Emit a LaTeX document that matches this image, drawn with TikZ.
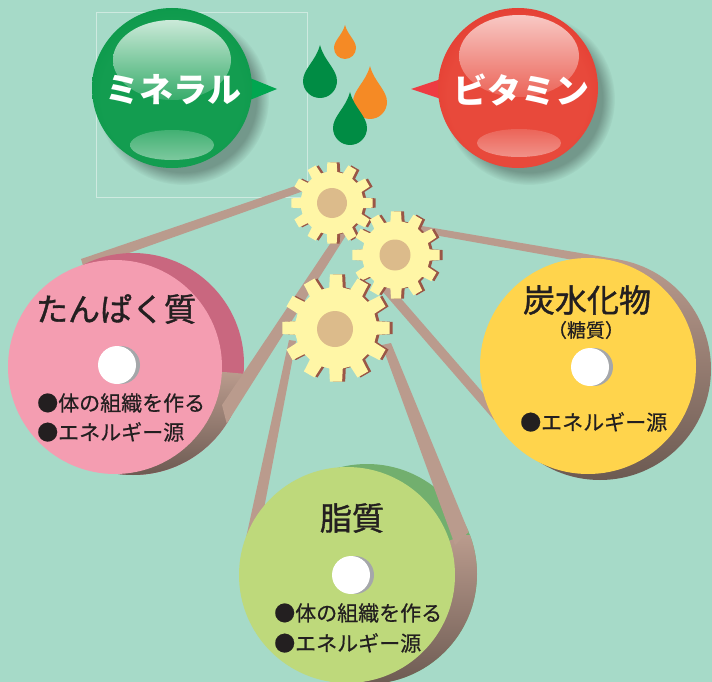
\documentclass[tikz,border=0pt]{standalone}
\usepackage{fontspec}
\newfontfamily\jp{Noto Sans CJK JP}
\newfontfamily\jpheavy{Noto Sans CJK JP}[FakeBold=1.2]
\newfontfamily\jpmid{Noto Sans CJK JP}[FakeBold=0.5]
\usetikzlibrary{fadings}

\definecolor{bg}{HTML}{A6DAC8}
\definecolor{ink}{HTML}{231F20}
\definecolor{beltc}{HTML}{BA9B8D}
\definecolor{beltdark}{HTML}{6C5A52}
\definecolor{gearfill}{HTML}{FFF6A6}
\definecolor{gearshadow}{HTML}{9A5646}
\definecolor{gearhub}{HTML}{DCBB8B}
\definecolor{pinkface}{HTML}{F49DB1}
\definecolor{pinkrim}{HTML}{C9677F}
\definecolor{yellowface}{HTML}{FFD44C}
\definecolor{greenface}{HTML}{BED97B}
\definecolor{greenrim}{HTML}{72AF6E}
\definecolor{holeshade}{HTML}{A5A7AA}
\definecolor{dropgr}{HTML}{008C44}
\definecolor{dropor}{HTML}{F58A25}
\definecolor{gA}{HTML}{139D50}
\definecolor{gB}{HTML}{009242}
\definecolor{gC}{HTML}{007434}
\definecolor{rA}{HTML}{E8493B}
\definecolor{rB}{HTML}{DD2B24}
\definecolor{rC}{HTML}{C41D1E}
\definecolor{ptrgreen}{HTML}{00A650}
\definecolor{ptrred}{HTML}{EE3B42}

\pgfdeclareradialshading{orbgreen}{\pgfpoint{0bp}{-4bp}}{color(0bp)=(gA); color(22bp)=(gA); color(40bp)=(gB); color(50bp)=(gC)}
\pgfdeclareradialshading{orbred}{\pgfpoint{0bp}{-4bp}}{color(0bp)=(rA); color(22bp)=(rA); color(40bp)=(rB); color(50bp)=(rC)}

% cog wheel: centre x, centre y, root radius, tip radius, fill colour
\newcommand{\cog}[5]{%
  \fill[#5] ([shift={(#1,#2)}]-6.5:#4)
    \foreach \k in {0,30,...,330}{
      -- ([shift={(#1,#2)}]\k-6.5:#4) -- ([shift={(#1,#2)}]\k+6.5:#4)
      -- ([shift={(#1,#2)}]\k+9.5:#3) -- ([shift={(#1,#2)}]\k+20.5:#3)
    } -- cycle;}

% water drop: x, tip y, radius, bottom y, colour
\newcommand{\drop}[5]{%
  \pgfmathsetmacro\dropcy{#4-#3}%
  \pgfmathsetmacro\dropmid{#2+0.45*(\dropcy-#2)}%
  \fill[#5] (#1,#2)
    .. controls ({#1+0.25*#3},\dropmid) and ({#1+#3},{\dropcy-0.7*#3}) .. ({#1+#3},\dropcy)
    .. controls ({#1+#3},{\dropcy+0.552*#3}) and ({#1+0.552*#3},#4) .. (#1,#4)
    .. controls ({#1-0.552*#3},#4) and ({#1-#3},{\dropcy+0.552*#3}) .. ({#1-#3},\dropcy)
    .. controls ({#1-#3},{\dropcy-0.7*#3}) and ({#1-0.25*#3},\dropmid) .. cycle;}

\begin{document}
\begin{tikzpicture}[x=1pt,y=-1pt,
  title/.style={font=\jpheavy\fontsize{32}{32}\selectfont, text=ink, inner sep=0},
  subtitle/.style={font=\jpmid\fontsize{19}{19}\selectfont, text=ink, inner sep=0},
  bullet/.style={font=\jpmid\fontsize{21}{21}\selectfont, text=ink, inner sep=0, anchor=west},
  orbtext/.style={font=\jp\bfseries\fontsize{34}{34}\selectfont, text=white, inner sep=0},
  orbshadow/.style={fill=black, opacity=.3, path fading=circle with fuzzy edge 15 percent},
  hole/.style={fill=white},
]
\useasboundingbox (0,0) rectangle (712,682);
\fill[bg] (0,0) rectangle (712,682);

% faint frame around the mineral sphere
\draw[white, opacity=.45, line width=.7pt] (96,12) rectangle (307,197);

% ---------- mineral sphere ----------
\fill[orbshadow] (183,99) circle (86);
\fill[ptrgreen] (240,74) -- (277,89) -- (240,104) -- cycle;
\shade[shading=orbgreen] (172,88) circle (80);
\shade[top color=white!78!gA, bottom color=gA!85!white] (172,60) ellipse [x radius=59, y radius=40];
\shade[top color=gA!80!white, bottom color=gA!55!white] (172,145) ellipse [x radius=42, y radius=15];
\node[orbtext] (mineral) at (173,90) {ミネラル};

% ---------- vitamin sphere ----------
\fill[orbshadow] (529,99) circle (86);
\fill[ptrred] (450,76) -- (411,89) -- (450,102) -- cycle;
\shade[shading=orbred] (518,88) circle (80);
\shade[top color=white!70!rA, bottom color=rA!85!white] (519,56) ellipse [x radius=60, y radius=41];
\shade[top color=rA!85!white, bottom color=rA!60!white] (519,143) ellipse [x radius=42, y radius=14];
\node[orbtext] (vitamin) at (521,90) {ビタミン};

% ---------- drops ----------
\drop{370}{66}{17}{119}{dropor}
\drop{345}{25}{11}{59}{dropor}
\drop{320}{45}{17}{98}{dropgr}
\drop{350}{92}{17}{145}{dropgr}

% ---------- belt runs passing behind the wheels ----------
\fill[beltc] (310,181) -- (312,188) -- (84,269) -- (81,259) -- cycle;      % protein, upper run
\fill[beltc] (410,224) -- (618.7,259.6) -- (640,272) -- (412,231) -- cycle; % carbohydrate, upper run
\fill[beltc] (384,279) -- (497,409) -- (494,420) -- (376,284) -- cycle;    % carbohydrate, lower run
\fill[beltc] (289,340) -- (296,341) -- (258,540) -- (246,538) -- cycle;    % lipid, left run

% ---------- protein wheel ----------
\fill[pinkrim] (133,364) circle (111);
\begin{scope}
  \clip (133,364) circle (111);
  \clip (133,364) -- (531,399) -- (531,620) -- (40,620) -- cycle;
  \shade[top color=beltc, bottom color=beltdark] (0,372) rectangle (260,476);
\end{scope}
\fill[beltc] (342,226) -- (350,229) -- (226.7,423.5) -- (222,405) -- cycle;
\fill[pinkface] (115,367) circle (107);
\fill[holeshade] (121,365) circle (19);
\fill[hole] (117,365) circle (19);
\node[title] (protein) at (116,309) {たんぱく質};
\node[bullet] (protein-a) at (37,403) {●体の組織を作る};
\node[bullet] (protein-b) at (37,432) {●エネルギー源};

% ---------- carbohydrate wheel ----------
\shade[top color=beltc, middle color=beltc, bottom color=beltdark] (600,369) circle (111);
\fill[yellowface] (588,366) circle (108);
\fill[holeshade] (594,367) circle (19);
\fill[hole] (590,367) circle (19);
\node[title] (carb) at (587,300) {炭水化物};
\node[subtitle] (carb-sub) at (586,330) {（糖質）};
\node[bullet] (carb-a) at (520,422) {●エネルギー源};

% ---------- lipid wheel ----------
\fill[greenrim] (367,574) circle (110);
\begin{scope}
  \clip (367,574) circle (110);
  \clip (367,574) -- (738,424) -- (738,800) -- (200,800) -- cycle;
  \shade[top color=beltc, bottom color=beltdark] (230,535) rectangle (480,686);
\end{scope}
\fill[beltc] (382,345) -- (391,343) -- (468.7,532.1) -- (455,545) -- cycle;
\fill[greenface] (347,575) circle (108);
\fill[holeshade] (355,575) circle (19);
\fill[hole] (351,575) circle (19);
\node[title] (lipid) at (352,518) {脂質};
\node[bullet] (lipid-a) at (274,613) {●体の組織を作る};
\node[bullet] (lipid-b) at (274,643) {●エネルギー源};

% ---------- gears ----------
\cog{335}{203}{31.5}{41}{gearshadow}
\cog{332}{203}{31.5}{41}{gearfill}
\fill[gearhub] (332,203) circle (15);
\cog{399}{255}{34}{44}{gearshadow}
\cog{396}{255}{34}{44}{gearfill}
\fill[gearhub] (395,255) circle (15.5);
\cog{339}{328}{41}{54}{gearshadow}
\cog{336}{328}{41}{54}{gearfill}
\fill[gearhub] (335,329) circle (18);
\end{tikzpicture}
\end{document}
